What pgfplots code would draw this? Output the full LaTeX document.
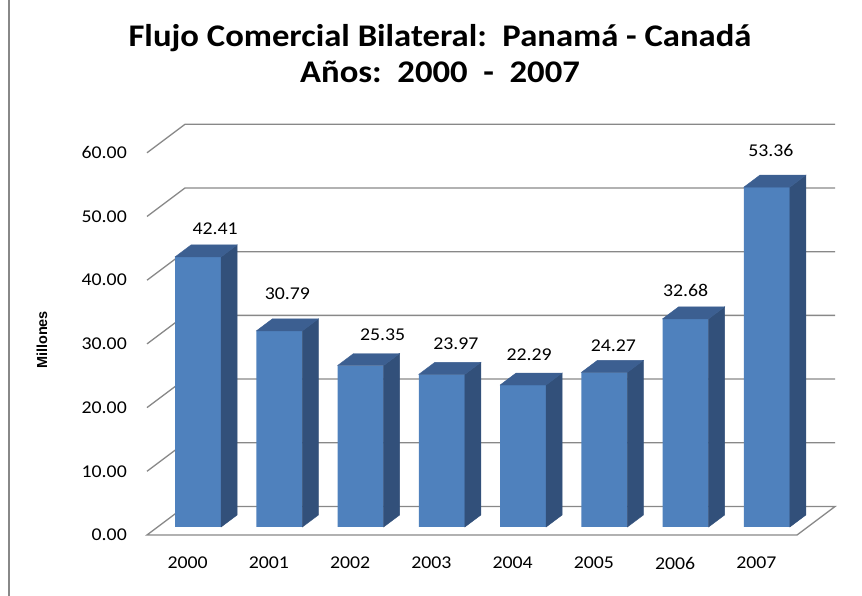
\documentclass[border=0pt]{standalone}
\usepackage{fontspec}
\setmainfont{Carlito}[FakeStretch=1.1]
\newfontfamily\arialfont{Liberation Sans}
\usepackage{pgfplots}
\pgfplotsset{compat=1.18}
\usepackage{pgfplotstable}

\definecolor{frontcol}{HTML}{4F81BD}
\definecolor{sidecol}{HTML}{32507A}
\definecolor{topcol}{HTML}{3C5F91}
\definecolor{gridc}{HTML}{888888}

\pgfdeclareplotmark{emptymark}{}

% x = category index (0 = 2000), y = value, dx/dy = label offset (px)
\pgfplotstableread{
x y dx dy
0 42.41 17 28
1 30.79 8 37
2 25.35 22 31
3 23.97 14 31
4 22.29 6 30
5 24.27 9 27
6 32.68 0 28
7 53.36 4 37
}\datatable

\begin{document}
\begin{tikzpicture}
% left frame line
\draw[gridc, line width=1.8pt] (9pt,0pt) -- (9pt,596pt);
% title
\node[anchor=base] at (440pt,549pt) {\fontsize{31.5}{36}\selectfont\bfseries Flujo Comercial Bilateral:\ \ Panamá - Canadá};
\node[anchor=base] at (440pt,513pt) {\fontsize{31.5}{36}\selectfont\bfseries Años:\ \ 2000\ \ -\ \ 2007};
% y label
\node[rotate=90] at (42pt,256pt) {\arialfont\fontsize{14.5}{16}\selectfont\bfseries Millones};

% front plane axis: tick labels, floor, walls
\begin{axis}[
  at={(147pt,61pt)}, anchor=south west,
  scale only axis, width=650pt, height=382.2pt,
  xmin=-0.5, xmax=7.5, ymin=0, ymax=60,
  axis line style={draw=none},
  major tick length=0pt,
  ytick={0,10,...,60},
  yticklabel={\pgfmathprintnumber[fixed,fixed zerofill,precision=2,assume math mode=true]{\tick}},
  yticklabel style={anchor=east, inner sep=0pt, xshift=-20pt, font=\fontsize{18}{20}\selectfont},
  xtick={0,...,7},
  xticklabels={2000,2001,2002,2003,2004,2005,2006,2007},
  xticklabel style={anchor=center, inner sep=0pt, yshift=-28pt, font=\fontsize{18}{20}\selectfont},
  clip=false,
]
\addplot[draw=none, forget plot] coordinates {(0,0)};
\draw[gridc, line width=1.3pt, fill=white]
  (axis cs:-0.5,0) -- (axis cs:7.5,0) -- ([shift={(38pt,28.5pt)}]axis cs:7.5,0)
  -- ([shift={(38pt,28.5pt)}]axis cs:-0.5,0) -- cycle;
\pgfplotsinvokeforeach{10,20,30,40,50,60}{
  \draw[gridc, line width=1.3pt] (axis cs:-0.5,#1) -- ([shift={(38pt,28.5pt)}]axis cs:-0.5,#1)
    -- ([shift={(38pt,28.5pt)}]axis cs:7.5,#1);
}
\end{axis}

% bar plane axis (bars at mid depth)
\begin{axis}[
  at={(157.5pt,69pt)}, anchor=south west,
  scale only axis, width=650pt, height=382.2pt,
  xmin=-0.5, xmax=7.5, ymin=0, ymax=60,
  hide axis, clip=false,
]
\addplot[scatter, only marks, mark=emptymark,
  visualization depends on={\thisrow{y} \as \val},
  scatter/@pre marker code/.code={%
    \pgfmathsetmacro{\hb}{-\val*6.37}%
    \pgfmathsetmacro{\hh}{12-\val*6.37}%
    \fill[sidecol] (23pt,0pt) -- (39pt,12pt) -- (39pt,\hh pt) -- (23pt,\hb pt) -- cycle;
    \fill[topcol] (-23pt,0pt) -- (-7pt,12pt) -- (39pt,12pt) -- (23pt,0pt) -- cycle;
  },
  scatter/@post marker code/.code={},
] table[x=x, y=y] {\datatable};
\addplot[ybar, bar width=46pt, fill=frontcol, draw=none,
  visualization depends on={\thisrow{dx} \as \ldx},
  visualization depends on={\thisrow{dy} \as \ldy},
  nodes near coords={\pgfmathprintnumber[fixed,fixed zerofill,precision=2,assume math mode=true]{\pgfplotspointmeta}},
  point meta=explicit,
  every node near coord/.append style={anchor=center, inner sep=0pt, xshift=\ldx pt, yshift=\ldy pt, font=\fontsize{18}{20}\selectfont, text=black},
] table[x=x, y=y, meta=y] {\datatable};
\end{axis}

\pgfresetboundingbox
\useasboundingbox (0pt,0pt) rectangle (862pt,596pt);
\end{tikzpicture}
\end{document}
